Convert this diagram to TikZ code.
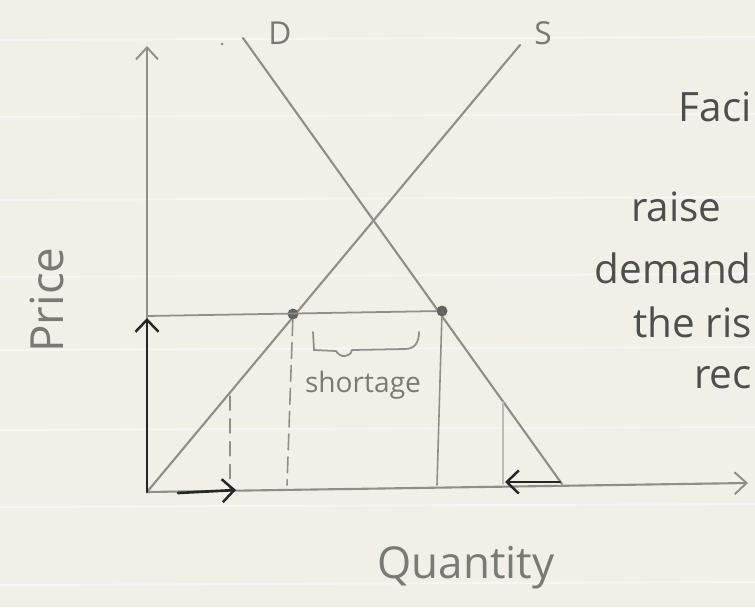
\documentclass[tikz,border=0pt]{standalone}
\usepackage{fontspec}
\setmainfont{Open Sans}
\usetikzlibrary{arrows.meta, calc}
\definecolor{paper}{HTML}{F1EFE8}
\definecolor{pencil}{HTML}{8E8E8B}
\definecolor{ink}{HTML}{4E4E4E}
\tikzset{
    pencil line/.style={draw=pencil, line width=1.2pt, line cap=round},
    barb/.style={-{Straight Barb[length=2.4mm, width=4.4mm, line width=1.1pt]}},
    shift arrow/.style={draw=black!85, line width=1.5pt, line cap=round,
        -{Straight Barb[length=2.4mm, width=4.6mm, line width=1.4pt]}},
    scribble/.style={text=ink, font=\fontsize{23}{25}\selectfont, inner sep=0pt, anchor=east}
}
\begin{document}
\begin{tikzpicture}[x=0.2mm, y=-0.2mm,
        dot/.style={circle, fill=pencil!70!black, inner sep=0pt, minimum size=2.2mm},
        gap/.style={pencil line, line width=0.9pt, dash pattern=on 9pt off 4pt},
        label/.style={text=pencil!85!black, inner sep=0pt}]
    \useasboundingbox (0,0) rectangle (755,607);
    \clip (0,0) rectangle (755,607);
    \fill[paper] (0,0) rectangle (755,607);
    % ruled paper
    \foreach \y in {40,117,200,277,350,430,507,585}
        \draw[black!4, line width=1.2pt] (0,\y) -- (755,\y-3);
    % axes
    \coordinate (O) at (147,492);
    \coordinate (ytop) at (147,46);
    \coordinate (xend) at (748,483);
    \draw[pencil line, barb] (O) -- (ytop);
    \draw[pencil line, barb] (O) -- (xend);
    % supply and demand
    \coordinate (S1) at (520,45);
    \coordinate (D0) at (243,38);
    \coordinate (D1) at (562,484);
    \draw[pencil line] (O) -- (S1);
    \draw[pencil line] (D0) -- (D1);
    % price ceiling
    \coordinate (pc) at (147,316);
    \node[dot] (qs) at (293,314) {};
    \node[dot] (qd) at (442,311) {};
    \draw[pencil line, line width=1pt] (pc) -- (qd);
    \coordinate (qs0) at (287,485);
    \coordinate (qd0) at (437,485);
    \draw[gap] (qs) -- (qs0);
    \draw[pencil line, line width=0.9pt] (qd) -- (qd0);
    \coordinate (a1) at (230,396);
    \coordinate (a0) at (230,490);
    \draw[gap, dash pattern=on 8pt off 5pt] (a1) -- (a0);
    \coordinate (b1) at (503,402);
    \coordinate (b0) at (503,484);
    \draw[pencil line, line width=0.7pt, draw=pencil!60] (b1) -- (b0);
    % shifts
    \coordinate (up0) at (147,492);
    \coordinate (up1) at (147,318);
    \draw[shift arrow] (up0) -- (up1);
    \coordinate (r0) at (178,493);
    \coordinate (r1) at (236,490);
    \draw[shift arrow] (r0) -- (r1);
    \coordinate (l0) at (560,482);
    \coordinate (l1) at (505,482);
    \draw[shift arrow] (l0) -- (l1);
    % brace
    \draw[pencil line, line width=1pt] (313,332) -- (314,350) -- (336,351)
        .. controls (340,358) and (350,358) .. (352,350) -- (405,349)
        .. controls (415,349) and (419,342) .. (419,332);
    \node[label, font=\fontsize{16}{18}\selectfont] (short) at (363,385) {shortage};
    % labels
    \node[label, font=\fontsize{18}{20}\selectfont] (Dlab) at (280,33) {D};
    \node[label, font=\fontsize{18}{20}\selectfont] (Slab) at (543,33) {S};
    \fill[pencil] (222,44) circle[radius=1.5];
    \node[label, rotate=90, font=\fontsize{26}{28}\selectfont] (plab) at (47,300) {Price};
    \node[label, font=\fontsize{25}{27}\selectfont] (qlab) at (466,568) {Quantity};
    % note at the edge
    \node[scribble] (n1) at (752,107) {Faci};
    \node[scribble] (n2) at (722,207) {raise};
    \node[scribble] (n3) at (752,268) {demand};
    \node[scribble] (n4) at (752,322) {the ris};
    \node[scribble] (n5) at (752,378) {rec};
\end{tikzpicture}
\end{document}
